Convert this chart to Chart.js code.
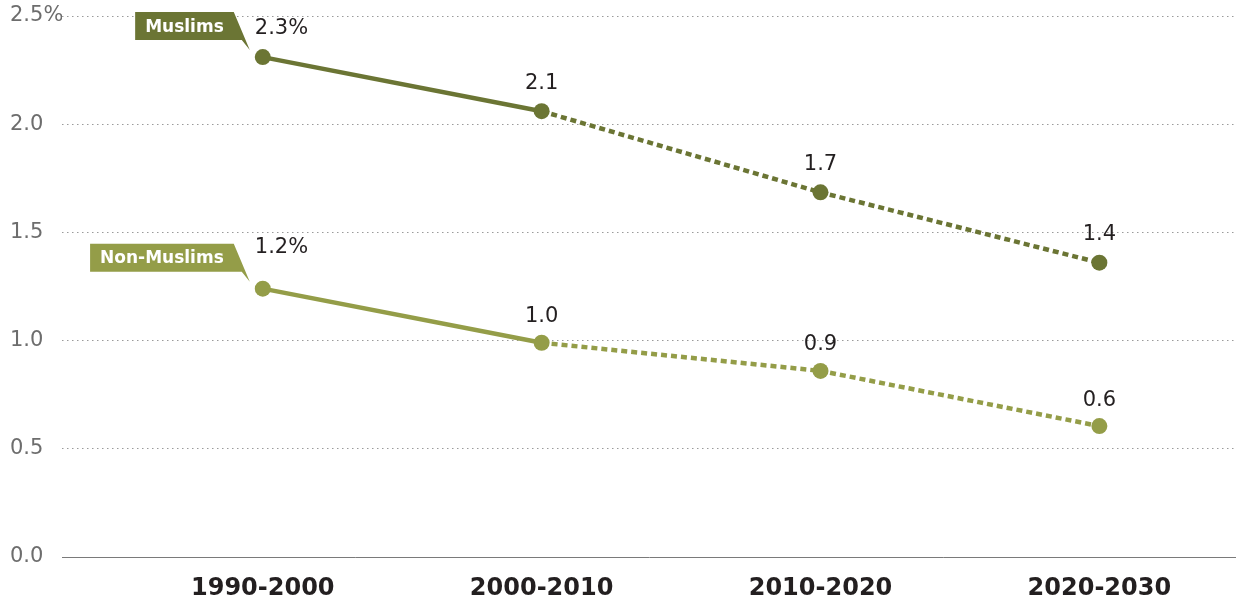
<!DOCTYPE html>
<html>
<head>
<meta charset="utf-8">
<script src="https://cdn.jsdelivr.net/npm/chart.js@4"></script>
<style>
html,body{margin:0;padding:0;background:#fff;}
#wrap{width:1236px;height:602px;position:relative;}
</style>
</head>
<body>
<div id="wrap"><canvas id="c"></canvas></div>
<script>
const categories = ['1990-2000', '2000-2010', '2010-2020', '2020-2030'];
const muslims = [2.31, 2.06, 1.685, 1.36];
const nonMuslims = [1.24, 0.99, 0.86, 0.605];
const muslimLabels = ['2.3%', '2.1', '1.7', '1.4'];
const nonMuslimLabels = ['1.2%', '1.0', '0.9', '0.6'];
const seriesNames = ['Muslims', 'Non-Muslims'];
const yTickValues = [0, 0.5, 1.0, 1.5, 2.0, 2.5];
const yTickLabels = ['0.0', '0.5', '1.0', '1.5', '2.0', '2.5%'];

const C_MUS = '#6b7534';
const C_NON = '#949d48';
const FONT = '"DejaVu Sans", Verdana, sans-serif';

const toPts = arr => arr.map((v, i) => ({x: i, y: v}));

const labelPlugin = {
  id: 'labels',
  afterDatasetsDraw(chart) {
    const ctx = chart.ctx;
    const sets = [
      {labels: muslimLabels, name: seriesNames[0], color: C_MUS, firstOff: 29, off: 28},
      {labels: nonMuslimLabels, name: seriesNames[1], color: C_NON, firstOff: 41, off: 26}
    ];
    sets.forEach((s, di) => {
      const meta = chart.getDatasetMeta(di);
      meta.data.forEach((pt, i) => {
        ctx.save();
        ctx.font = '21px ' + FONT;
        ctx.fillStyle = '#231f20';
        ctx.textBaseline = 'middle';
        if (i === 0) {
          ctx.textAlign = 'left';
          ctx.fillText(s.labels[i], pt.x - 8, pt.y - s.firstOff);
        } else {
          ctx.textAlign = 'center';
          ctx.fillText(s.labels[i], pt.x, pt.y - s.off);
        }
        ctx.restore();
      });
      // callout
      const p = meta.data[0];
      const tipX = p.x - 13, tipY = p.y - 7;
      ctx.save();
      ctx.font = 'bold 17px ' + FONT;
      const tw = ctx.measureText(s.name).width;
      const right = tipX - 16, top = tipY - 38, bottom = tipY - 10;
      const left = right - tw - 20;
      ctx.fillStyle = s.color;
      ctx.beginPath();
      ctx.moveTo(left, top);
      ctx.lineTo(right, top);
      ctx.lineTo(tipX, tipY);
      ctx.lineTo(tipX - 8, bottom);
      ctx.lineTo(left, bottom);
      ctx.closePath();
      ctx.fill();
      ctx.fillStyle = '#ffffff';
      ctx.textAlign = 'left';
      ctx.textBaseline = 'middle';
      ctx.fillText(s.name, left + 10, (top + bottom) / 2 + 1);
      ctx.restore();
    });
  }
};

const dashSeg = ctx => ctx.p0DataIndex >= 1 ? [6, 4] : undefined;

new Chart(document.getElementById('c'), {
  type: 'line',
  data: {
    datasets: [
      {label: seriesNames[0], data: toPts(muslims), borderColor: C_MUS, backgroundColor: C_MUS,
       borderWidth: 4.5, pointRadius: 8, pointHoverRadius: 8, pointBorderWidth: 0,
       segment: {borderDash: dashSeg}},
      {label: seriesNames[1], data: toPts(nonMuslims), borderColor: C_NON, backgroundColor: C_NON,
       borderWidth: 4.5, pointRadius: 8, pointHoverRadius: 8, pointBorderWidth: 0,
       segment: {borderDash: dashSeg}}
    ]
  },
  options: {
    responsive: true,
    maintainAspectRatio: false,
    animation: false,
    layout: {autoPadding: false, padding: {top: 16, left: 10, right: 0, bottom: 0}},
    plugins: {legend: {display: false}, tooltip: {enabled: false}},
    scales: {
      x: {
        type: 'linear', min: -0.72, max: 3.49,
        afterBuildTicks: sc => { sc.ticks = categories.map((c, i) => ({value: i})); },
        afterFit: sc => { sc.height = 45; },
        ticks: {
          callback: v => categories[v],
          font: {family: FONT, size: 24, weight: 'bold'},
          color: '#231f20', padding: 17, maxRotation: 0, autoSkip: false
        },
        grid: {display: false, drawTicks: false},
        border: {display: true, color: '#7a7a7a', width: 1}
      },
      y: {
        min: 0, max: 2.5,
        afterBuildTicks: sc => { sc.ticks = yTickValues.map(v => ({value: v})); },
        afterFit: sc => { sc.width = 52; },
        ticks: {
          callback: (v) => yTickLabels[yTickValues.indexOf(v)],
          font: {family: FONT, size: 21},
          color: '#6d6d6d', crossAlign: 'far', padding: 0
        },
        grid: {
          drawTicks: false, tickLength: 0,
          color: ctx => ctx.tick && ctx.tick.value === 0 ? 'rgba(0,0,0,0)' : '#9a9a9a',
          lineWidth: 1
        },
        border: {display: false, dash: [1.5, 3.5]}
      }
    }
  },
  plugins: [labelPlugin]
});
</script>
</body>
</html>
